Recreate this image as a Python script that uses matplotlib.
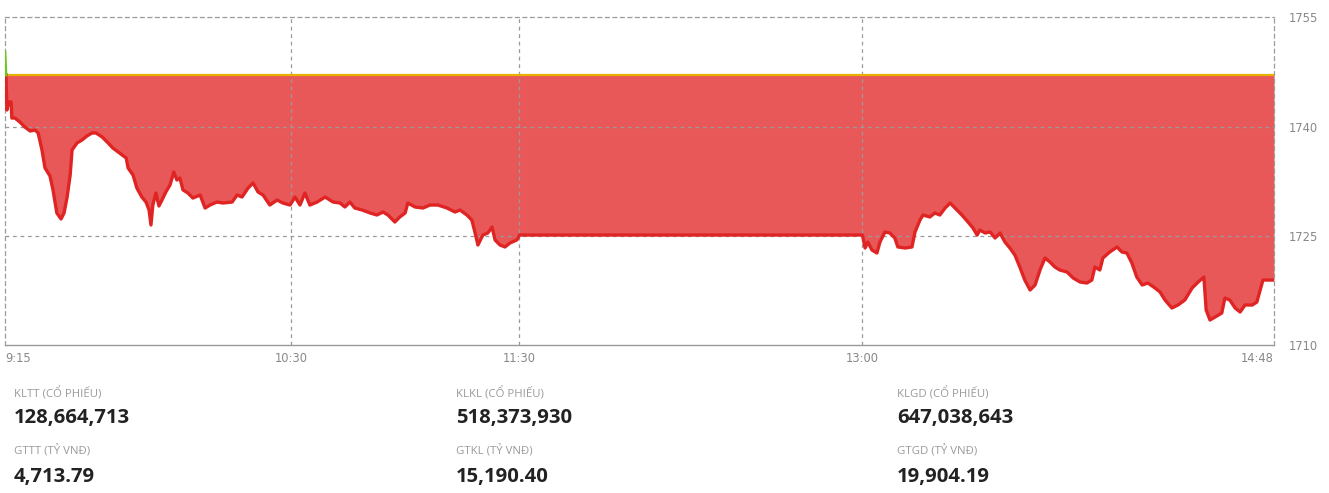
import numpy as np
import matplotlib.pyplot as plt

ref_price = 1747.1

# minutes after 9:15
minutes = [0, 0.26, 0.5, 1.0, 1.6, 1.8, 2.6, 3.9, 5.2, 6.6, 7.9, 8.7, 9.7, 10.5, 11.8, 12.6,
           13.6, 14.7, 15.5, 16.3, 17.1, 17.6, 18.9, 20.2, 21.5, 22.8, 23.9, 25.5, 26.8, 28.3,
           29.7, 30.7, 31.8, 32.3, 33.6, 34.6, 35.9, 37.0, 37.8, 38.3, 38.8, 39.6, 40.4, 41.2,
           42.2, 43.3, 44.3, 45.1, 45.9, 46.7, 48.0, 49.3, 51.2, 52.5, 53.8, 55.6, 57.2, 59.6,
           60.9, 62.2, 63.8, 65.1, 66.4, 67.7, 69.5, 71.4, 72.9, 74.8, 76.1, 77.4, 78.7, 80.0,
           81.9, 84.0, 86.1, 87.9, 89.2, 90.5, 91.8, 93.7, 95.8, 97.6, 99.2, 100.5, 102.3, 103.6,
           105.0, 105.7, 107.6, 109.7, 111.5, 113.6, 116.0, 118.1, 119.4, 121.2, 122.5, 123.3,
           124.1, 125.4, 126.7, 127.8, 128.6, 129.9, 131.2, 132.5, 134.3, 135.0,
           225.0, 225.7, 226.4, 227.5, 228.8, 229.6, 230.9, 232.2, 233.5, 234.3, 236.2, 238.0,
           238.8, 240.1, 240.9, 242.7, 244.0, 245.3, 246.7, 248.0, 249.3, 251.1, 252.7, 254.0,
           255.1, 255.8, 257.2, 258.5, 259.8, 261.1, 262.4, 263.7, 265.0, 266.3, 267.6, 269.0,
           270.3, 271.6, 272.9, 274.2, 275.5, 276.8, 278.7, 280.3, 282.1, 283.9, 285.2, 286.0,
           287.3, 288.1, 289.9, 291.8, 293.1, 294.4, 295.7, 297.0, 298.4, 299.9, 301.8, 303.1,
           304.4, 306.2, 307.8, 309.6, 311.5, 313.1, 314.6, 315.2, 316.2, 317.5, 319.3, 320.1,
           321.4, 322.8, 324.1, 325.4, 327.3, 328.5, 330.1, 333.0]

index_values = [1750.18, 1747.08, 1742.27, 1743.37, 1743.37, 1741.17, 1741.17, 1740.62, 1739.93,
                1739.39, 1739.52, 1739.11, 1736.78, 1734.31, 1733.21, 1731.28, 1728.13, 1727.30,
                1728.13, 1730.32, 1733.34, 1736.78, 1737.74, 1738.15, 1738.70, 1739.11, 1739.11,
                1738.56, 1737.88, 1737.05, 1736.50, 1736.09, 1735.68, 1734.31, 1733.34, 1731.56,
                1730.32, 1729.63, 1728.54, 1726.48, 1729.22, 1730.87, 1729.09, 1729.91, 1731.01,
                1731.97, 1733.76, 1732.66, 1732.93, 1731.30, 1730.87, 1730.18, 1730.60, 1728.81,
                1729.22, 1729.63, 1729.50, 1729.63, 1730.60, 1730.32, 1731.56, 1732.25, 1731.01,
                1730.60, 1729.22, 1729.91, 1729.50, 1729.22, 1730.32, 1729.22, 1730.87, 1729.22,
                1729.63, 1730.32, 1729.63, 1729.50, 1728.95, 1729.63, 1728.81, 1728.54, 1728.13,
                1727.85, 1728.26, 1727.85, 1726.89, 1727.58, 1728.13, 1729.50, 1728.95, 1728.81,
                1729.22, 1729.22, 1728.81, 1728.26, 1728.54, 1727.85, 1727.16, 1725.52, 1723.73,
                1725.10, 1725.38, 1726.20, 1724.42, 1723.73, 1723.46, 1724.01, 1724.42, 1725.10,
                1725.10, 1723.32, 1724.14, 1723.04, 1722.63, 1724.14, 1725.52, 1725.38, 1724.69,
                1723.46, 1723.32, 1723.46, 1725.52, 1727.16, 1727.85, 1727.58, 1728.13, 1727.85,
                1728.81, 1729.50, 1728.81, 1727.85, 1726.89, 1726.07, 1725.10, 1725.79, 1725.38,
                1725.52, 1724.69, 1725.38, 1724.14, 1723.32, 1722.36, 1720.71, 1718.92, 1717.55,
                1718.24, 1720.30, 1721.95, 1721.40, 1720.71, 1720.30, 1720.02, 1719.20, 1718.65,
                1718.51, 1718.92, 1720.71, 1720.30, 1721.95, 1722.77, 1723.46, 1722.77, 1722.63,
                1721.26, 1719.33, 1718.24, 1718.51, 1717.82, 1717.27, 1716.18, 1715.08, 1715.49,
                1716.18, 1717.82, 1718.65, 1719.33, 1714.80, 1713.43, 1713.84, 1714.39, 1716.45,
                1716.18, 1715.08, 1714.53, 1715.49, 1715.49, 1715.90, 1718.92, 1718.92]

tick_minutes = [0, 75, 135, 225, 333]
tick_labels = ['9:15', '10:30', '11:30', '13:00', '14:48']
y_ticks = [1710, 1725, 1740, 1755]

stat_labels = [['KLTT (CỔ PHIẾU)', 'GTTT (TỶ VNĐ)'],
               ['KLKL (CỔ PHIẾU)', 'GTKL (TỶ VNĐ)'],
               ['KLGD (CỔ PHIẾU)', 'GTGD (TỶ VNĐ)']]
stat_values = [['128,664,713', '4,713.79'],
               ['518,373,930', '15,190.40'],
               ['647,038,643', '19,904.19']]

t = np.array(minutes)
v = np.array(index_values)

fig = plt.figure(figsize=(13.29, 4.93), dpi=100)
ax = fig.add_axes([5 / 1329, 1 - 345 / 493, 1269 / 1329, (345 - 17.3) / 493])

grid_c = '#9a9a9a'
ax.fill_between(t, v, ref_price, where=v <= ref_price, interpolate=True, color='#e85858', lw=0)
ax.fill_between(t, v, ref_price, where=v >= ref_price, interpolate=True, color='#7ed321', lw=0)
ax.axhline(ref_price, color='#e8b000', lw=1.6, zorder=3)
ax.plot(t[1:], v[1:], color='#e02424', lw=2.4, zorder=4, solid_joinstyle='round')
ax.plot(t[:2], v[:2], color='#6cc91c', lw=2.0, zorder=4)

for yv in [1725, 1740]:
    ax.axhline(yv, color=grid_c, lw=0.9, ls=(0, (3, 3)), zorder=2)
for xv in [75, 135, 225]:
    ax.axvline(xv, color=grid_c, lw=0.9, ls=(0, (3, 3)), zorder=2)

ax.set_xlim(0, 333)
ax.set_ylim(1710, 1755)
for side in ['top', 'left', 'right']:
    ax.spines[side].set_linestyle((0, (3, 3)))
    ax.spines[side].set_color(grid_c)
    ax.spines[side].set_linewidth(0.9)
ax.spines['bottom'].set_color('#999999')
ax.spines['bottom'].set_linewidth(1.0)

ax.yaxis.tick_right()
ax.set_yticks(y_ticks)
ax.set_yticklabels([str(y) for y in y_ticks])
ax.tick_params(axis='y', length=0, pad=11, labelsize=8.3, labelcolor='#888888')
ax.set_xticks(tick_minutes)
ax.set_xticklabels(tick_labels)
ax.tick_params(axis='x', length=0, pad=5, labelsize=8.3, labelcolor='#888888')
xl = ax.get_xticklabels()
xl[0].set_ha('left')
xl[-1].set_ha('right')

col_x = [14, 456, 897]
label_y = [393.5, 451.5]
value_y = [418, 477]
for c in range(3):
    for r in range(2):
        fig.text(col_x[c] / 1329, 1 - label_y[r] / 493, stat_labels[c][r],
                 fontsize=8.2, color='#9a9a9a', family='Open Sans', va='center', ha='left')
        fig.text(col_x[c] / 1329, 1 - value_y[r] / 493, stat_values[c][r],
                 fontsize=14.6, color='#222222', family='Open Sans', weight='bold',
                 va='center', ha='left')

fig.savefig('out.png', dpi=100)
